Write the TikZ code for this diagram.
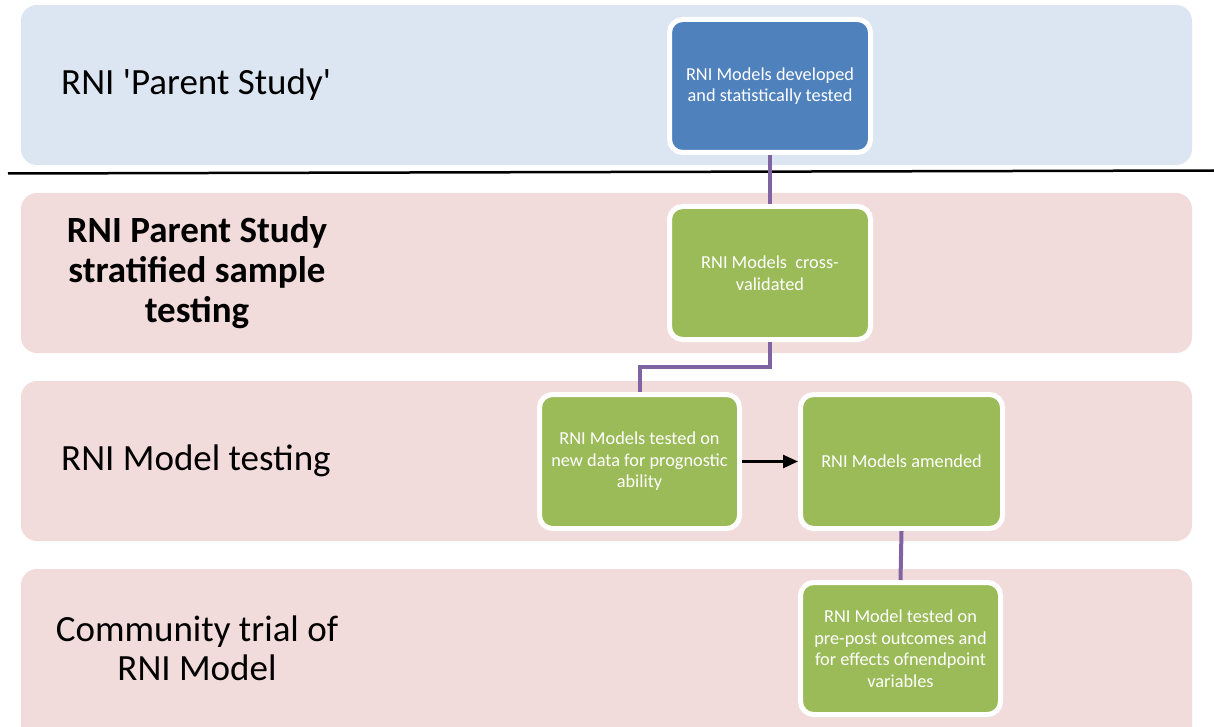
\documentclass[tikz,border=0pt]{standalone}
\usepackage{fontspec}
\setmainfont{Carlito}
\usetikzlibrary{arrows.meta}
\definecolor{bandblue}{HTML}{DCE6F2}
\definecolor{bandpink}{HTML}{F2DCDB}
\definecolor{boxblue}{HTML}{4F81BD}
\definecolor{boxgreen}{HTML}{9BBB59}
\definecolor{linkpurple}{HTML}{8064A2}
\tikzset{
  band/.style={rounded corners=16pt},
  stagebox/.style={draw=white, line width=5pt, rounded corners=13pt, text=white,
    align=center, font=\fontsize{18.3}{21.5}\selectfont, inner sep=4pt},
  link/.style={draw=linkpurple, line width=4pt},
  bandlabel/.style={font=\fontsize{37}{40}\selectfont, align=center, inner sep=0pt},
}
\begin{document}
\begin{tikzpicture}[x=1pt,y=-1pt]
\useasboundingbox (0,0) rectangle (1214,727);
\fill[white] (0,0) rectangle (1214,727);
% bands
\fill[bandblue, band] (21,5) rectangle (1192,165);
\fill[bandpink, band] (21,193) rectangle (1192,353);
\fill[bandpink, band] (21,381) rectangle (1192,541);
\begin{scope}
\clip (0,0) rectangle (1214,727);
\fill[bandpink, band] (21,569) rectangle (1192,745);
\end{scope}
% separator line
\coordinate (sepL) at (8,173.5);
\coordinate (sepR) at (1214,170.5);
\draw[line width=2.5pt] (sepL) -- (sepR);
% band labels
\node[bandlabel, anchor=west] (l1) at (61,85) {RNI \textquotesingle Parent Study\textquotesingle};
\node[bandlabel, font=\fontsize{37}{40}\selectfont\bfseries] (l2) at (197,273) {RNI Parent Study\\stratified sample\\testing};
\node[bandlabel, anchor=west] (l3) at (61,461) {RNI Model testing};
\node[bandlabel, font=\fontsize{37}{39}\selectfont] (l4) at (197,648) {Community trial of\\RNI Model};
% boxes
\node[stagebox, fill=boxblue, minimum width=201pt, minimum height=133pt] (b1) at (770,86) {RNI Models developed\\and statistically tested};
\node[stagebox, fill=boxgreen, minimum width=201pt, minimum height=133pt] (b2) at (770,273) {RNI Models\ \ cross-\\validated};
\node[stagebox, fill=boxgreen, minimum width=200pt, minimum height=134pt] (b3) at (639.5,461.5) {RNI Models tested on\\new data for prognostic\\ability};
\node[stagebox, fill=boxgreen, minimum width=202pt, minimum height=134pt] (b4) at (901.5,461.5) {RNI Models amended};
\node[stagebox, fill=boxgreen, minimum width=200pt, minimum height=132pt] (b5) at (900.5,648.5) {RNI Model tested on\\pre-post outcomes and\\for effects ofnendpoint\\variables};
% connectors
\draw[link] (b1.south) -- (b2.north);
\draw[link] (b2.south) -- ++(0,25) -| (b3.north);
\draw[link] (b4.south) -- (b5.north);
\draw[line width=2.5pt, -{Triangle[length=15pt,width=13pt]}] (b3.east) -- (b4.west);
\end{tikzpicture}
\end{document}
